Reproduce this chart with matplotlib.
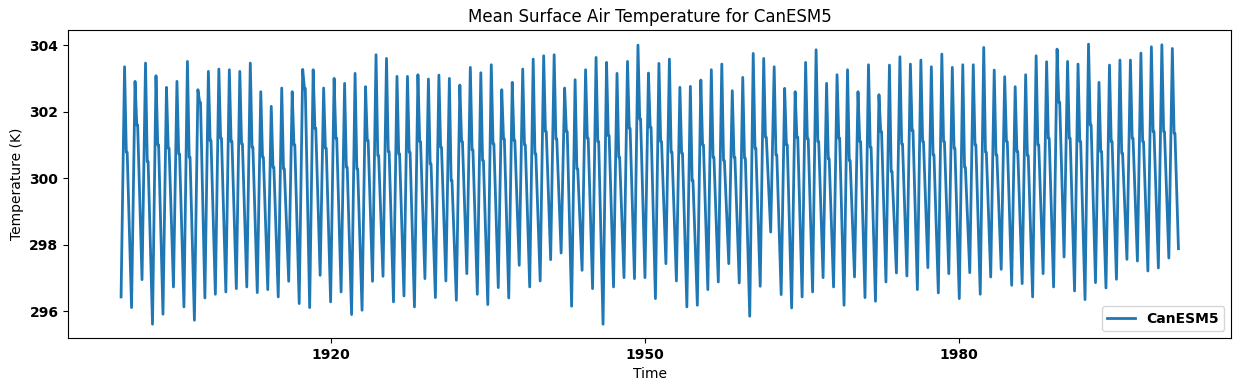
import numpy as np
import matplotlib
matplotlib.use('Agg')
import matplotlib.pyplot as plt

# Yearly key values of the monthly series (K)
years = list(range(1900, 2001))

# January minimum of each year
jan_low = [
    296.43, 296.11, 296.95, 295.61, 295.91, 296.73, 296.13, 295.73, 296.40, 296.51,
    296.58, 296.68, 296.73, 296.56, 296.65, 296.43, 296.90, 296.23, 296.11, 297.08,
    296.28, 296.58, 295.90, 296.03, 296.90, 297.05, 296.28, 296.46, 296.13, 296.98,
    296.41, 296.91, 296.33, 297.13, 296.51, 296.20, 296.71, 296.40, 297.38, 296.73,
    296.91, 297.55, 297.75, 296.15, 297.23, 296.68, 295.61, 296.73, 297.01, 296.98,
    297.01, 296.38, 297.43, 296.91, 296.13, 296.18, 296.65, 296.88, 297.43, 296.85,
    295.85, 296.75, 298.38, 296.50, 296.10, 296.43, 296.58, 297.01, 296.73, 296.18,
    297.03, 296.41, 296.30, 296.88, 297.15, 297.06, 296.65, 297.31, 296.55, 297.13,
    296.38, 297.16, 296.51, 297.03, 297.26, 296.78, 296.83, 296.43, 297.13, 296.73,
    297.63, 296.61, 296.35, 296.86, 296.70, 296.96, 297.56, 297.51, 297.21, 297.30,
    297.60,
]

# May maximum of each year
may_high = [
    303.35, 302.91, 303.46, 303.08, 302.73, 302.91, 303.51, 302.66, 303.21, 303.28,
    303.26, 303.21, 303.46, 302.60, 302.16, 302.71, 302.60, 303.27, 303.26, 302.71,
    303.00, 302.85, 303.15, 302.75, 303.71, 303.60, 303.06, 303.06, 303.11, 302.98,
    303.10, 303.00, 302.80, 303.33, 303.17, 303.41, 302.66, 302.88, 303.28, 303.58,
    303.68, 303.71, 302.71, 302.96, 303.26, 303.63, 303.48, 303.15, 303.51, 304.00,
    303.16, 303.45, 303.58, 302.73, 302.76, 302.95, 303.26, 303.43, 302.63, 303.03,
    303.75, 303.60, 303.35, 302.70, 302.60, 303.48, 303.86, 302.85, 303.11, 303.26,
    302.60, 303.41, 302.51, 303.40, 303.65, 303.43, 303.55, 303.35, 303.73, 303.33,
    303.41, 303.41, 303.93, 303.25, 303.05, 302.75, 303.11, 303.68, 303.50, 303.88,
    303.51, 303.43, 304.03, 302.88, 303.40, 303.55, 303.55, 303.76, 303.95, 304.01,
    303.90,
]

# Monsoon shoulder (Jul-Aug) of each year
summer_shoulder = [
    300.78, 301.60, 300.50, 301.00, 300.90, 300.73, 300.63, 302.28, 301.13, 301.20,
    301.10, 301.03, 300.93, 300.63, 300.33, 300.28, 301.00, 302.70, 301.50, 300.90,
    301.20, 300.33, 300.28, 301.13, 300.68, 300.80, 300.73, 300.78, 301.10, 300.43,
    300.93, 299.93, 301.10, 300.85, 300.53, 301.03, 301.18, 301.13, 301.00, 300.73,
    301.40, 301.18, 301.40, 300.28, 301.20, 301.10, 301.28, 300.63, 301.50, 301.78,
    301.53, 301.10, 300.78, 300.75, 299.93, 301.00, 300.63, 300.53, 300.63, 300.60,
    300.90, 301.23, 300.70, 301.00, 301.23, 301.18, 301.10, 300.58, 301.20, 300.53,
    301.10, 300.93, 301.40, 300.20, 301.03, 301.43, 301.10, 300.70, 301.10, 300.90,
    300.33, 301.00, 300.78, 300.70, 301.10, 300.80, 300.68, 301.00, 301.20, 302.28,
    301.20, 301.10, 301.60, 300.80, 301.10, 300.75, 301.20, 301.10, 301.40, 301.40,
    301.35,
]

last_dec = 297.88  # final value, Dec 2000

# Assemble the points in time order: Jan, May, Jul, Aug of every year
t = []
temp = []
for i, yr in enumerate(years):
    t += [yr, yr + 4 / 12, yr + 6 / 12, yr + 7 / 12]
    temp += [jan_low[i], may_high[i], summer_shoulder[i], summer_shoulder[i]]
t.append(years[-1] + 11 / 12)
temp.append(last_dec)

fig = plt.figure(figsize=(12.4, 3.91), dpi=100)
ax = fig.add_axes([0.055, 0.135, 0.938, 0.788])
ax.plot(t, temp, color='#1f77b4', linewidth=2, label='CanESM5')

ax.set_title('Mean Surface Air Temperature for CanESM5')
ax.set_xlabel('Time')
ax.set_ylabel('Temperature (K)')
ax.set_xticks([1920, 1950, 1980])
for lbl in ax.get_xticklabels() + ax.get_yticklabels():
    lbl.set_fontweight('bold')
ax.legend(loc='lower right', prop={'weight': 'bold'})

plt.savefig('out.png', dpi=100)
plt.close()
